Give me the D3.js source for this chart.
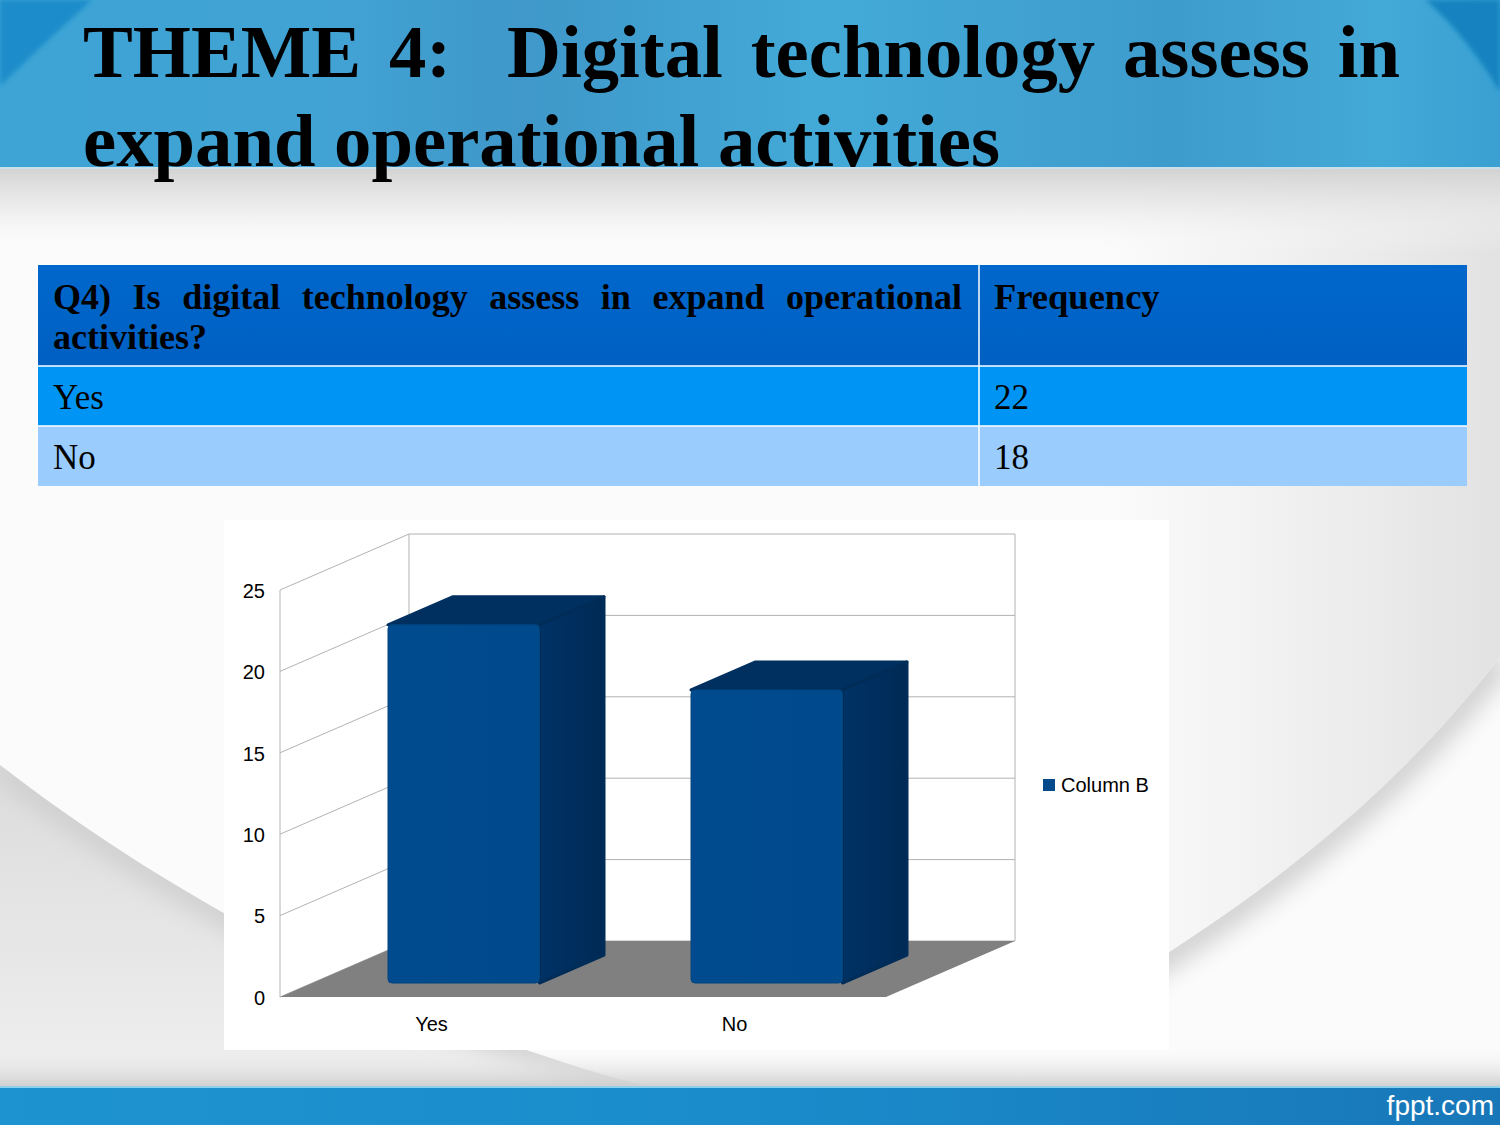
<!DOCTYPE html>
<html>
<head>
<meta charset="utf-8">
<script src="https://cdn.jsdelivr.net/npm/d3@7"></script>
<style>
  html, body { margin: 0; padding: 0; background: #fff; }
  svg { display: block; }
</style>
</head>
<body>
<script>
// ---------- DATA ----------
const categories = ["Yes", "No"];
const values = [22, 18];
const seriesName = "Column B";
const yTicks = [0, 5, 10, 15, 20, 25];
const titleLines = ["THEME 4:  Digital technology assess in", "expand operational activities"];
const tableHeader = ["Q4) Is digital technology assess in expand operational", "activities?"];
const tableHeader2 = "Frequency";
const tableRows = [["Yes", "22"], ["No", "18"]];
const footerText = "fppt.com";

// ---------- SETUP ----------
const W = 1500, H = 1125;
const svg = d3.select("body").append("svg").attr("width", W).attr("height", H);
const defs = svg.append("defs");

function lin(id, x2, y2, stops) {
  const g = defs.append("linearGradient").attr("id", id).attr("x1", 0).attr("y1", 0).attr("x2", x2).attr("y2", y2);
  stops.forEach(s => g.append("stop").attr("offset", s[0]).attr("stop-color", s[1]).attr("stop-opacity", s[2] == null ? 1 : s[2]));
}
lin("topGrad", 1, 0, [["0", "#3da4d5"], ["0.22", "#41a3d4"], ["0.35", "#3f98c9"], ["0.55", "#43aad8"], ["0.78", "#3e9ccd"], ["0.92", "#43a9d7"], ["1", "#3aa0d2"]]);
lin("shadeGrad", 0, 1, [["0", "#d2d2d2", 1], ["0.45", "#e6e6e6", 0.7], ["1", "#fbfbfb", 0]]);
lin("botShade", 0, 1, [["0", "#eeeeee", 0], ["1", "#cdcdcd", 1]]);
lin("footGrad", 1, 0, [["0", "#1d93cf"], ["0.5", "#1a8ccb"], ["1", "#1877b8"]]);
lin("headGrad", 0, 1, [["0", "#0067cc"], ["1", "#0060c2"]]);
lin("barGrad", 1, 0, [["0", "#004b8f"], ["1", "#00498b"]]);
lin("sideGrad", 1, 0, [["0", "#003266"], ["1", "#002a55"]]);
lin("rightGrad", 1, 0, [["0", "#e6e6e6", 0], ["1", "#e2e2e2", 1]]);
lin("leftGrad", 0, 1, [["0", "#dcdcdc"], ["1", "#efefef"]]);

const blur2 = defs.append("filter").attr("id", "blur2");
blur2.append("feGaussianBlur").attr("stdDeviation", 2);
const blur8 = defs.append("filter").attr("id", "blur8").attr("x", "-10%").attr("y", "-10%").attr("width", "120%").attr("height", "120%");
blur8.append("feGaussianBlur").attr("stdDeviation", 12);

// ---------- BACKGROUND ----------
svg.append("rect").attr("x", 0).attr("y", 168).attr("width", W).attr("height", 920).attr("fill", "#fbfbfb");

// right-side grey shading above the swoosh curve
const rightCurve = "M1500,657 C1420,760 1310,870 1100,995";
svg.append("path").attr("d", "M1230,168 L1500,168 L1500,657 C1420,760 1310,870 1100,995 L1100,168 Z")
  .attr("fill", "url(#rightGrad)");
defs.append("clipPath").attr("id", "clipRight").append("path")
  .attr("d", rightCurve + " L1100,1090 L1500,1090 Z");
svg.append("path").attr("d", rightCurve + " L1100,1090 L1500,1090 Z").attr("fill", "#fbfbfb");
svg.append("g").attr("clip-path", "url(#clipRight)").append("path")
  .attr("d", rightCurve).attr("fill", "none").attr("stroke", "#cfcfcf").attr("stroke-width", 30).attr("filter", "url(#blur8)");

// lower-left grey region below curve
const leftCurve = "M0,765 C180,905 420,1030 660,1090";
svg.append("path").attr("d", leftCurve + " L0,1090 Z").attr("fill", "url(#leftGrad)");
defs.append("clipPath").attr("id", "clipLeft").append("path").attr("d", leftCurve + " L0,1090 Z");
svg.append("g").attr("clip-path", "url(#clipLeft)").append("path")
  .attr("d", leftCurve).attr("fill", "none").attr("stroke", "#cdcdcd").attr("stroke-width", 24).attr("filter", "url(#blur8)");

svg.append("rect").attr("x", 0).attr("y", 168).attr("width", W).attr("height", 85).attr("fill", "url(#shadeGrad)");
svg.append("rect").attr("x", 0).attr("y", 1050).attr("width", W).attr("height", 38).attr("fill", "url(#botShade)");

// top band
svg.append("rect").attr("x", 0).attr("y", 0).attr("width", W).attr("height", 168).attr("fill", "url(#topGrad)");
svg.append("path").attr("d", "M0,0 L92,0 Q45,42 0,86 Z").attr("fill", "#1a8dca").attr("filter", "url(#blur2)");
svg.append("path").attr("d", "M1426,0 Q1468,38 1500,92 L1500,0 Z").attr("fill", "#1783c0").attr("filter", "url(#blur2)");
svg.append("rect").attr("x", 0).attr("y", 167).attr("width", W).attr("height", 2).attr("fill", "#c9dfe9");

// footer band
svg.append("rect").attr("x", 0).attr("y", 1087).attr("width", W).attr("height", 38).attr("fill", "url(#footGrad)");
svg.append("rect").attr("x", 0).attr("y", 1086).attr("width", W).attr("height", 2).attr("fill", "#8fd0ee");
svg.append("text").attr("x", 1494).attr("y", 1115).attr("text-anchor", "end")
  .attr("font-family", "Liberation Sans, Arial, sans-serif").attr("font-size", 28).attr("fill", "#ffffff").text(footerText);

// ---------- TITLE ----------
const titleFont = "Liberation Serif, Times New Roman, serif";
const tl1 = svg.append("text").attr("x", 83).attr("y", 77)
  .attr("font-family", titleFont).attr("font-weight", "bold").attr("font-size", 74.7)
  .style("white-space", "pre").attr("fill", "#000").text(titleLines[0]);
{
  const natural = tl1.node().getComputedTextLength();
  const spaces = (titleLines[0].match(/ /g) || []).length;
  tl1.attr("word-spacing", (1400 - 83 - natural) / spaces);
}
svg.append("text").attr("x", 83).attr("y", 166)
  .attr("font-family", titleFont).attr("font-weight", "bold").attr("font-size", 74.7)
  .attr("fill", "#000").text(titleLines[1]);

// ---------- TABLE ----------
const tX0 = 38, tX1 = 1467, tXd = 979;
const rowY = [265, 366, 426, 486];
svg.append("rect").attr("x", tX0).attr("y", rowY[0]).attr("width", tX1 - tX0).attr("height", rowY[1] - rowY[0]).attr("fill", "url(#headGrad)");
svg.append("rect").attr("x", tX0).attr("y", rowY[1]).attr("width", tX1 - tX0).attr("height", rowY[2] - rowY[1]).attr("fill", "#0095f4");
svg.append("rect").attr("x", tX0).attr("y", rowY[2]).attr("width", tX1 - tX0).attr("height", rowY[3] - rowY[2]).attr("fill", "#9acdfd");
[rowY[1], rowY[2]].forEach(y => svg.append("line").attr("x1", tX0).attr("x2", tX1).attr("y1", y).attr("y2", y).attr("stroke", "#ffffff").attr("stroke-width", 1.5));
svg.append("line").attr("x1", tXd).attr("x2", tXd).attr("y1", rowY[0]).attr("y2", rowY[3]).attr("stroke", "#ffffff").attr("stroke-width", 1.5);

const th1 = svg.append("text").attr("x", 53).attr("y", 309)
  .attr("font-family", titleFont).attr("font-weight", "bold").attr("font-size", 36).attr("fill", "#000")
  .style("white-space", "pre").text(tableHeader[0]);
{
  const natural = th1.node().getComputedTextLength();
  const spaces = (tableHeader[0].match(/ /g) || []).length;
  th1.attr("word-spacing", (962 - 53 - natural) / spaces);
}
svg.append("text").attr("x", 53).attr("y", 349)
  .attr("font-family", titleFont).attr("font-weight", "bold").attr("font-size", 36).attr("fill", "#000").text(tableHeader[1]);
svg.append("text").attr("x", 994).attr("y", 309)
  .attr("font-family", titleFont).attr("font-weight", "bold").attr("font-size", 36.5).attr("fill", "#000").text(tableHeader2);
tableRows.forEach((r, i) => {
  const by = [409, 469][i];
  svg.append("text").attr("x", 53).attr("y", by).attr("font-family", titleFont).attr("font-size", 35).attr("fill", "#000").text(r[0]);
  svg.append("text").attr("x", 994).attr("y", by).attr("font-family", titleFont).attr("font-size", 35).attr("fill", "#000").text(r[1]);
});

// ---------- CHART ----------
svg.append("rect").attr("x", 224).attr("y", 520).attr("width", 945).attr("height", 530).attr("fill", "#ffffff");

const x0 = 280, x1 = 886;
const depth = { dx: 129, dy: -56 };
const x = d3.scaleBand().domain(categories).range([x0, x1]).paddingInner(0.5).paddingOuter(0.25);
const y = d3.scaleLinear().domain([0, 25]).range([997, 590]);
const gridColor = "#b3b3b3";
const chart = svg.append("g");

yTicks.forEach(t => {
  const yf = y(t);
  chart.append("line").attr("x1", x0).attr("y1", yf).attr("x2", x0 + depth.dx).attr("y2", yf + depth.dy)
    .attr("stroke", gridColor).attr("stroke-width", 1);
  chart.append("line").attr("x1", x0 + depth.dx).attr("y1", yf + depth.dy).attr("x2", x1 + depth.dx).attr("y2", yf + depth.dy)
    .attr("stroke", gridColor).attr("stroke-width", 1);
});
chart.append("line").attr("x1", x0).attr("x2", x0).attr("y1", y(0)).attr("y2", y(25)).attr("stroke", gridColor);
chart.append("line").attr("x1", x0 + depth.dx).attr("x2", x0 + depth.dx).attr("y1", y(0) + depth.dy).attr("y2", y(25) + depth.dy).attr("stroke", gridColor);
chart.append("line").attr("x1", x1 + depth.dx).attr("x2", x1 + depth.dx).attr("y1", y(0) + depth.dy).attr("y2", y(25) + depth.dy).attr("stroke", gridColor);

// floor
chart.append("polygon")
  .attr("points", [[x0, y(0)], [x1, y(0)], [x1 + depth.dx, y(0) + depth.dy], [x0 + depth.dx, y(0) + depth.dy]].map(p => p.join(",")).join(" "))
  .attr("fill", "#808080");

// bars
const zFront = 0.25, zDepth = 0.5;
const fdx = depth.dx * zFront, fdy = depth.dy * zFront;
const bdx = depth.dx * zDepth, bdy = depth.dy * zDepth;
categories.forEach((c, i) => {
  const v = values[i];
  const bx0 = x(c) + fdx, bx1 = x(c) + x.bandwidth() + fdx;
  const by0 = y(0) + fdy, byT = y(v) + fdy;
  const g = chart.append("g").attr("stroke-linejoin", "round");
  g.append("polygon")
    .attr("points", [[bx0, byT], [bx0 + bdx, byT + bdy], [bx1 + bdx, byT + bdy], [bx1, byT]].map(p => p.join(",")).join(" "))
    .attr("fill", "#00305f").attr("stroke", "#00305f").attr("stroke-width", 3);
  g.append("polygon")
    .attr("points", [[bx1, byT], [bx1 + bdx, byT + bdy], [bx1 + bdx, by0 + bdy], [bx1, by0]].map(p => p.join(",")).join(" "))
    .attr("fill", "url(#sideGrad)").attr("stroke", "#002c58").attr("stroke-width", 3);
  g.append("rect").attr("x", bx0).attr("y", byT).attr("width", bx1 - bx0).attr("height", by0 - byT)
    .attr("rx", 4).attr("fill", "url(#barGrad)").attr("stroke", "#00457f").attr("stroke-width", 1);
});

// y axis labels
const yAxis = d3.axisLeft(y).tickValues(yTicks).tickSize(0).tickPadding(15);
const ya = chart.append("g").attr("transform", `translate(${x0},0)`).call(yAxis);
ya.select(".domain").remove();
ya.selectAll("text").attr("font-family", "Liberation Sans, Arial, sans-serif").attr("font-size", 20).attr("fill", "#000").attr("dy", "0.36em");

// x axis labels
const xAxis = d3.axisBottom(x).tickSize(0).tickPadding(20);
const xa = chart.append("g").attr("transform", `translate(0,${y(0)})`).call(xAxis);
xa.select(".domain").remove();
xa.selectAll("text").attr("font-family", "Liberation Sans, Arial, sans-serif").attr("font-size", 20).attr("fill", "#000");

// legend
const lg = svg.append("g").attr("transform", "translate(1043,779)");
lg.append("rect").attr("width", 12).attr("height", 12).attr("fill", "#004a8c");
lg.append("text").attr("x", 18).attr("y", 13).attr("font-family", "Liberation Sans, Arial, sans-serif").attr("font-size", 20).attr("fill", "#000").text(seriesName);
</script>
</body>
</html>
